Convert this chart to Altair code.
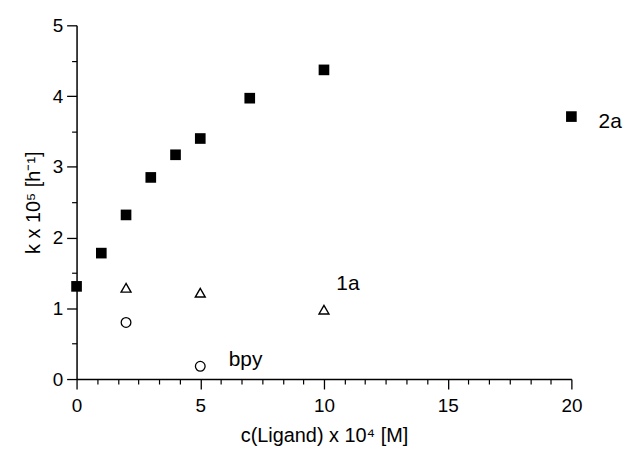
import altair as alt
import pandas as pd

# Data
x_2a = [0, 1, 2, 3, 4, 5, 7, 10, 20]
y_2a = [1.31, 1.78, 2.32, 2.85, 3.17, 3.40, 3.97, 4.37, 3.71]
x_1a = [2, 5, 10]
y_1a = [1.29, 1.22, 0.98]
x_bpy = [2, 5]
y_bpy = [0.80, 0.18]

label_text = ["2a", "1a", "bpy"]
label_x = [21.1, 10.5, 6.15]
label_y = [3.55, 1.26, 0.18]

x_major = [0, 5, 10, 15, 20]
y_major = [0, 1, 2, 3, 4, 5]
x_minor = [m + k * 5 / 6 for m in [0, 5, 10, 15] for k in range(1, 6)]
y_minor = [0.5, 1.5, 2.5, 3.5, 4.5]

FONT = "Liberation Sans"

df2a = pd.DataFrame({"x": x_2a, "y": y_2a})
df1a = pd.DataFrame({"x": x_1a, "y": y_1a})
dfbpy = pd.DataFrame({"x": x_bpy, "y": y_bpy})
dflab = pd.DataFrame({"x": label_x, "y": label_y, "t": label_text})

xscale = alt.Scale(domain=[0, 20], nice=False, zero=False)
yscale = alt.Scale(domain=[0, 5], nice=False, zero=False)

x_axis_major = alt.Axis(
    values=x_major, title="c(Ligand) x 10⁴ [M]", grid=False,
    tickSize=10, tickColor="black", tickWidth=1.3, domainColor="black",
    domainWidth=1.5, labelFont=FONT, labelFontSize=19, labelColor="black",
    labelPadding=8, titleFont=FONT, titleFontSize=20, titleFontWeight="normal",
    titleColor="black", titlePadding=10, orient="bottom", labelFlush=False,
)
y_axis_major = alt.Axis(
    values=y_major, title="k x 10⁵ [h⁻¹]", grid=False,
    tickSize=10, tickColor="black", tickWidth=1.3, domainColor="black",
    domainWidth=1.5, labelFont=FONT, labelFontSize=19, labelColor="black",
    labelPadding=4, titleFont=FONT, titleFontSize=20, titleFontWeight="normal",
    titleColor="black", titlePadding=9, orient="left", labelFlush=False,
)
x_axis_minor = alt.Axis(
    values=x_minor, title=None, grid=False, labels=False, domain=False,
    tickSize=5, tickColor="black", tickWidth=1.2, orient="bottom",
)
y_axis_minor = alt.Axis(
    values=y_minor, title=None, grid=False, labels=False, domain=False,
    tickSize=5, tickColor="black", tickWidth=1.2, orient="left",
)

squares = alt.Chart(df2a).mark_point(
    shape="square", filled=True, color="black", size=115, opacity=1
).encode(
    x=alt.X("x:Q", scale=xscale, axis=x_axis_major),
    y=alt.Y("y:Q", scale=yscale, axis=y_axis_major),
)

triangles = alt.Chart(df1a).mark_point(
    shape="triangle-up", filled=False, color="black", size=100, strokeWidth=1.4, opacity=1
).encode(
    x=alt.X("x:Q", scale=xscale, axis=x_axis_minor),
    y=alt.Y("y:Q", scale=yscale, axis=y_axis_minor),
)

circles = alt.Chart(dfbpy).mark_point(
    shape="circle", filled=False, color="black", size=95, strokeWidth=1.3, opacity=1
).encode(
    x=alt.X("x:Q", scale=xscale, axis=None),
    y=alt.Y("y:Q", scale=yscale, axis=None),
)

labels = alt.Chart(dflab).mark_text(
    align="left", baseline="alphabetic", font=FONT, fontSize=21, color="black"
).encode(
    x=alt.X("x:Q", scale=xscale, axis=None),
    y=alt.Y("y:Q", scale=yscale, axis=None),
    text="t:N",
)

chart = alt.layer(squares, triangles, circles, labels).resolve_axis(
    x="independent", y="independent"
).properties(
    width=498, height=356,
    autosize=alt.AutoSizeParams(type="none"),
    padding={"left": 69, "top": 16, "right": 60, "bottom": 73},
    background="white",
).configure_view(stroke=None)

chart.save("out.html", embed_options={"renderer": "svg", "actions": False})
